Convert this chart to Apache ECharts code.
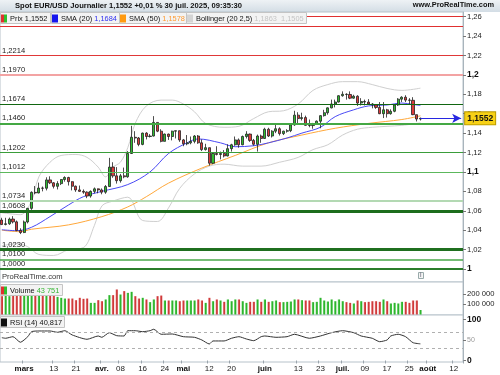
<!DOCTYPE html>
<html><head><meta charset="utf-8">
<script src="https://cdn.jsdelivr.net/npm/echarts@6/dist/echarts.min.js"></script>
<style>html,body{margin:0;padding:0;background:#fff}#c{width:500px;height:375px}</style>
</head><body><div id="c"></div>
<script>
// ---------- DATA ----------
const opens  = [1.0505,1.0460,1.0466,1.0515,1.0486,1.0398,1.0376,1.0485,1.0625,1.0790,1.0784,1.0834,1.0832,1.0918,1.0888,1.0852,1.0880,1.0922,1.0943,1.0900,1.0853,1.0815,1.0800,1.0792,1.0752,1.0800,1.0826,1.0815,1.0792,1.0850,1.1050,1.0960,1.0910,1.0960,1.0950,1.1190,1.1357,1.1350,1.1284,1.1400,1.1365,1.1370,1.1510,1.1420,1.1315,1.1390,1.1365,1.1420,1.1425,1.1330,1.1290,1.1300,1.1315,1.1370,1.1300,1.1230,1.1250,1.1090,1.1190,1.1180,1.1190,1.1165,1.1240,1.1280,1.1330,1.1280,1.1365,1.1390,1.1325,1.1285,1.1370,1.1345,1.1440,1.1370,1.1420,1.1445,1.1395,1.1420,1.1425,1.1485,1.1585,1.1550,1.1560,1.1480,1.1478,1.1495,1.1523,1.1580,1.1610,1.1660,1.1700,1.1720,1.1785,1.1800,1.1798,1.1760,1.1780,1.1710,1.1725,1.1720,1.1700,1.1690,1.1665,1.1600,1.1640,1.1600,1.1625,1.1690,1.1750,1.1770,1.1740,1.1738,1.1590,1.1545];
const highs  = [1.0528,1.0528,1.0530,1.0545,1.0500,1.0420,1.0500,1.0630,1.0800,1.0855,1.0890,1.0850,1.0945,1.0955,1.0895,1.0905,1.0925,1.0955,1.0950,1.0905,1.0860,1.0860,1.0820,1.0800,1.0810,1.0840,1.0830,1.0830,1.0865,1.1145,1.1100,1.1050,1.0980,1.1045,1.1215,1.1475,1.1420,1.1360,1.1405,1.1410,1.1390,1.1575,1.1510,1.1440,1.1395,1.1395,1.1425,1.1425,1.1425,1.1340,1.1380,1.1365,1.1380,1.1380,1.1335,1.1290,1.1250,1.1195,1.1265,1.1210,1.1225,1.1285,1.1290,1.1365,1.1345,1.1375,1.1420,1.1395,1.1340,1.1385,1.1385,1.1455,1.1455,1.1430,1.1495,1.1460,1.1425,1.1440,1.1495,1.1630,1.1615,1.1610,1.1580,1.1540,1.1505,1.1530,1.1585,1.1640,1.1665,1.1745,1.1745,1.1790,1.1830,1.1810,1.1830,1.1795,1.1790,1.1760,1.1745,1.1750,1.1710,1.1700,1.1720,1.1720,1.1650,1.1645,1.1700,1.1760,1.1780,1.1790,1.1760,1.1770,1.1590,1.1560];
const lows   = [1.0455,1.0450,1.0455,1.0470,1.0390,1.0360,1.0370,1.0470,1.0610,1.0770,1.0780,1.0800,1.0810,1.0875,1.0830,1.0820,1.0865,1.0900,1.0860,1.0810,1.0795,1.0795,1.0775,1.0730,1.0735,1.0780,1.0780,1.0770,1.0775,1.0845,1.0940,1.0880,1.0890,1.0935,1.0940,1.1185,1.1300,1.1265,1.1275,1.1335,1.1355,1.1365,1.1410,1.1305,1.1315,1.1330,1.1325,1.1345,1.1310,1.1265,1.1275,1.1285,1.1295,1.1290,1.1215,1.1220,1.1065,1.1080,1.1170,1.1130,1.1150,1.1160,1.1210,1.1270,1.1250,1.1275,1.1345,1.1310,1.1270,1.1210,1.1300,1.1340,1.1360,1.1355,1.1400,1.1375,1.1380,1.1405,1.1410,1.1475,1.1490,1.1530,1.1475,1.1460,1.1445,1.1490,1.1450,1.1570,1.1590,1.1655,1.1665,1.1715,1.1775,1.1745,1.1750,1.1755,1.1680,1.1685,1.1685,1.1690,1.1655,1.1650,1.1595,1.1555,1.1560,1.1590,1.1615,1.1680,1.1720,1.1720,1.1700,1.1585,1.1520,1.1530];
const closes = [1.0458,1.0466,1.0515,1.0486,1.0398,1.0376,1.0485,1.0625,1.0790,1.0784,1.0834,1.0832,1.0918,1.0888,1.0852,1.0880,1.0922,1.0943,1.0900,1.0853,1.0815,1.0800,1.0792,1.0752,1.0800,1.0826,1.0815,1.0792,1.0850,1.1050,1.0960,1.0910,1.0960,1.0950,1.1190,1.1357,1.1350,1.1284,1.1400,1.1365,1.1370,1.1510,1.1420,1.1315,1.1390,1.1365,1.1420,1.1425,1.1330,1.1290,1.1300,1.1315,1.1370,1.1300,1.1230,1.1250,1.1090,1.1190,1.1180,1.1190,1.1165,1.1240,1.1280,1.1330,1.1280,1.1365,1.1390,1.1325,1.1285,1.1370,1.1345,1.1440,1.1370,1.1420,1.1445,1.1395,1.1420,1.1425,1.1485,1.1585,1.1550,1.1560,1.1480,1.1478,1.1495,1.1523,1.1580,1.1610,1.1660,1.1700,1.1720,1.1785,1.1800,1.1798,1.1760,1.1780,1.1710,1.1725,1.1720,1.1700,1.1690,1.1665,1.1600,1.1640,1.1600,1.1625,1.1690,1.1750,1.1770,1.1740,1.1738,1.1590,1.1545,1.1552];
const volumes = [178000,194000,178000,184000,188000,194000,194000,210000,210000,204000,210000,210000,204000,194000,194000,171000,162000,155000,155000,155000,139000,162000,152000,155000,113000,113000,139000,129000,146000,188000,188000,243000,194000,227000,210000,220000,178000,155000,162000,146000,120000,146000,178000,184000,136000,136000,136000,136000,129000,136000,136000,136000,136000,146000,136000,113000,162000,129000,146000,136000,123000,146000,129000,146000,146000,129000,113000,123000,123000,146000,123000,146000,123000,129000,136000,120000,120000,123000,126000,146000,146000,139000,136000,136000,120000,123000,162000,136000,126000,146000,129000,146000,129000,120000,113000,107000,136000,129000,120000,123000,129000,129000,123000,146000,129000,107000,113000,107000,123000,123000,113000,136000,136000,43751];
// indicator lines read at sampled dates (MM-DD, 2025)
const sma20 = [['02-21',1.0405],['02-27',1.0395],['03-05',1.0430],['03-12',1.0540],['03-19',1.0660],['03-25',1.0745],['04-01',1.0800],['04-10',1.0870],['04-18',1.1000],['04-25',1.1190],['05-02',1.1300],['05-07',1.1340],['05-15',1.1300],['05-21',1.1260],['05-28',1.1270],['06-03',1.1300],['06-10',1.1350],['06-16',1.1400],['06-23',1.1460],['06-27',1.1570],['07-04',1.1640],['07-10',1.1680],['07-17',1.1690],['07-23',1.1710],['07-28',1.1695],['07-30',1.1684]];
const sma50 = [['02-21',1.0400],['02-28',1.0385],['03-05',1.0410],['03-19',1.0455],['04-01',1.0540],['04-10',1.0640],['04-17',1.0745],['04-25',1.0885],['05-08',1.1040],['05-21',1.1170],['06-03',1.1300],['06-16',1.1380],['06-27',1.1450],['07-10',1.1500],['07-23',1.1540],['07-30',1.1578]];
const bollUpper = [['02-21',1.0580],['02-28',1.0560],['03-05',1.0700],['03-07',1.0950],['03-12',1.1100],['03-17',1.1170],['03-21',1.1180],['03-26',1.1150],['03-31',1.1050],['04-02',1.0950],['04-04',1.1050],['04-08',1.1100],['04-10',1.1250],['04-14',1.1500],['04-17',1.1680],['04-23',1.1740],['04-28',1.1740],['05-01',1.1700],['05-06',1.1620],['05-09',1.1500],['05-16',1.1460],['05-22',1.1470],['05-28',1.1550],['06-03',1.1620],['06-09',1.1630],['06-13',1.1700],['06-19',1.1840],['06-25',1.1900],['07-01',1.1930],['07-07',1.1930],['07-11',1.1900],['07-17',1.1860],['07-23',1.1840],['07-30',1.1863]];
const bollLower = [['02-21',1.0240],['02-27',1.0260],['03-04',1.0230],['03-07',1.0150],['03-13',1.0140],['03-19',1.0200],['03-25',1.0220],['03-28',1.0450],['04-01',1.0650],['04-04',1.0700],['04-10',1.0740],['04-16',1.0500],['04-22',1.0490],['04-25',1.0630],['04-30',1.0830],['05-06',1.0980],['05-12',1.1060],['05-16',1.1080],['05-23',1.1060],['05-30',1.1060],['06-06',1.1100],['06-13',1.1150],['06-19',1.1230],['06-25',1.1280],['07-01',1.1380],['07-07',1.1440],['07-11',1.1460],['07-17',1.1470],['07-23',1.1480],['07-30',1.1505]];
const rsi = [['02-21',56],['02-24',54.5],['02-26',58.4],['02-28',44.7],['03-04',58.4],['03-05',70.7],['03-07',72.4],['03-12',72.4],['03-14',69.2],['03-18',73.1],['03-20',62.6],['03-26',52],['03-31',60.1],['04-01',56.9],['04-03',68.2],['04-07',60.9],['04-09',60.1],['04-10',73.1],['04-14',73.1],['04-16',70.7],['04-18',73.1],['04-21',76.6],['04-23',64.3],['04-28',65],['05-01',58.4],['05-06',56.9],['05-08',50.3],['05-12',40.5],['05-13',47.9],['05-16',47.9],['05-20',54.5],['05-22',58.4],['05-26',52.8],['05-28',48.6],['05-30',58.4],['06-02',60.1],['06-05',56.9],['06-10',58.4],['06-12',64.3],['06-18',54.5],['06-23',60.1],['06-26',68.2],['07-01',73.1],['07-04',68.2],['07-08',60.1],['07-11',54.5],['07-15',46.1],['07-17',50.3],['07-18',60.1],['07-22',64.3],['07-24',58.4],['07-28',43.7],['07-30',40.817]];
const levels = [1.2613,1.2465,1.2214,1.1970,1.1674,1.1460,1.1202,1.1012,1.0734,1.0608,1.0230,1.0100,1.0000];
const priceTicks = [1.26,1.24,1.22,1.20,1.18,1.16,1.14,1.12,1.10,1.08,1.06,1.04,1.02,1.00];
const volumeTicks = [100000,200000];
const rsiTicks = [0,50,100];
const rsiBands = [70,30];
const dayLabels = {'03-03':'mars','03-13':'13','03-21':'21','04-01':'avr.','04-08':'08','04-16':'16','04-24':'24','05-01':'mai','05-12':'12','05-20':'20','06-02':'juin','06-13':'13','06-23':'23','07-01':'juil.','07-09':'09','07-17':'17','07-25':'25','08-01':'août','08-12':'12'};
const monthLabels = ['mars','avr.','mai','juin','juil.','août'];

// ---------- trading-day categories ----------
const categories = [];
for (let d = new Date(Date.UTC(2025,1,21)); d <= new Date(Date.UTC(2025,7,14)); d.setUTCDate(d.getUTCDate()+1)) {
  const w = d.getUTCDay(); if (w === 0 || w === 6) continue;
  categories.push(String(d.getUTCMonth()+1).padStart(2,'0') + '-' + String(d.getUTCDate()).padStart(2,'0'));
}
const n = closes.length;
const lastDate = categories[n-1];
const lastClose = closes[n-1];
const last = a => a[a.length-1][1];
const f4 = v => v.toFixed(4).replace('.', ',');
const fr = v => String(v).replace('.', ',');
const thou = v => String(Math.round(v)).replace(/\B(?=(\d{3})+(?!\d))/g, ' ');

const FONT = 'Liberation Sans, Arial, sans-serif';
const GREEN = '#2fbf2f', RED = '#dd3b3b';

const levelStyles = [
  {c:'#e03030', w:1, lab:false}, {c:'#e03030', w:1}, {c:'#e03838', w:1}, {c:'#f3a3a3', w:2},
  {c:'#116611', w:1}, {c:'#44a844', w:2}, {c:'#3a9d3a', w:1}, {c:'#5cb85c', w:1},
  {c:'#b3d9b3', w:2}, {c:'#1d6d1d', w:3}, {c:'#1f6f1f', w:3}, {c:'#48a848', w:1.5}, {c:'#2a7d2a', w:2}
];

const candleData = opens.map((o,i) => [o, closes[i], lows[i], highs[i]]);
const grad = (a, b) => new echarts.graphic.LinearGradient(0,0,1,0,[{offset:0,color:b},{offset:0.45,color:a},{offset:1,color:a}]);
const volData = volumes.map((v,i) => ({value: v, itemStyle: {color: closes[i] >= opens[i] ? grad('#2db52d', '#8fe08f') : grad('#cf3a3a', '#f0a0a0')}}));

const gridCommon = {left: 0, right: 37, show: true, borderColor: '#b7c2ca', borderWidth: 1, backgroundColor: '#fff'};
const xBase = {type: 'category', data: categories, boundaryGap: true,
  axisLine: {show: false}, axisTick: {show: false}, axisLabel: {show: false}, splitLine: {show: false}};
const isLab = (i, v) => dayLabels[v] !== undefined;

const LF = 7.4;
const legendBox = (text, left, top, rich) => ({
  text, left, top, padding: [2, 3, 1, 1], backgroundColor: '#f3f3f3', borderColor: '#c4c4c4', borderWidth: 1,
  textStyle: {fontFamily: FONT, fontSize: LF, fontWeight: 'normal', color: '#111', lineHeight: 9, rich: Object.assign({
    r: {width: 3, height: 8, backgroundColor: '#e03030'}, g: {width: 3, height: 8, backgroundColor: '#2fbf2f'},
    t: {fontSize: LF, color: '#111', fontFamily: FONT, padding: [0, 0, 0, 3]}}, rich || {})}
});
const sq = c => ({width: 6, height: 8, backgroundColor: c});

const option = {
  animation: false,
  backgroundColor: '#fff',
  textStyle: {fontFamily: FONT},
  graphic: [{type: 'rect', z: -10, shape: {x: 0, y: 0, width: 500, height: 12},
    style: {fill: new echarts.graphic.LinearGradient(0,0,0,1,[{offset:0,color:'#eef2f5'},{offset:1,color:'#d3dde5'}])}}],
  title: [
    {text: 'Spot EUR/USD Journalier ' + fr(lastClose.toFixed(4)) + ' +0,01 % 30 juil. 2025, 09:35:30', left: 15, top: 1.5, padding: 0,
      textStyle: {fontFamily: FONT, fontSize: 7.6, fontWeight: 'bold', color: '#111'}},
    {text: 'www.ProRealTime.com', right: 6, top: 1.5, padding: 0, textStyle: {fontFamily: FONT, fontSize: 7.4, fontWeight: 'bold', color: '#111'}},
    legendBox('{r|}{g|}{t|Prix ' + f4(lastClose) + '}', 0, 12),
    legendBox('{s|}{t|SMA (20)} {v|' + f4(last(sma20)) + '}', 51, 12, {s: sq('#1515ee'), v: {color: '#3030f0', fontSize: LF, fontFamily: FONT}}),
    legendBox('{s|}{t|SMA (50)} {v|' + f4(last(sma50)) + '}', 119, 12, {s: sq('#ff9a10'), v: {color: '#ff9a30', fontSize: LF, fontFamily: FONT}}),
    legendBox('{s|}{t|Bollinger (20 2,5)} {v|' + f4(last(bollUpper)) + '  ' + f4(last(bollLower)) + '}', 186, 12, {s: sq('#d4d4d4'), v: {color: '#c4c4c4', fontSize: LF, fontFamily: FONT}}),
    {text: 'ProRealTime.com', left: 2, top: 273, padding: 0, textStyle: {fontFamily: FONT, fontSize: 7.6, fontWeight: 'normal', color: '#333'}},
    {text: 'i', left: 418, top: 272, padding: [0, 2], borderColor: '#9aa', borderWidth: 1, backgroundColor: '#f4f4f4', textStyle: {fontFamily: FONT, fontSize: 7, fontWeight: 'normal', color: '#667'}},
    legendBox('{r|}{g|}{t|Volume} {v|' + thou(volumes[n-1]) + '}', 0, 284, {v: {color: '#35b535', fontSize: LF, fontFamily: FONT}}),
    legendBox('{k|}{t|RSI (14) ' + fr(last(rsi).toFixed(3)) + '}', 0, 316, {k: sq('#111')})
  ],
  grid: [
    Object.assign({top: 12, height: 270}, gridCommon),
    Object.assign({top: 282, height: 33}, gridCommon),
    Object.assign({top: 315, height: 47}, gridCommon)
  ],
  xAxis: [
    Object.assign({gridIndex: 0}, xBase),
    Object.assign({gridIndex: 1}, xBase),
    Object.assign({}, xBase, {gridIndex: 2,
      axisLine: {show: false},
      axisTick: {show: true, interval: isLab, length: 3, lineStyle: {color: '#9aa4ac'}},
      axisLabel: {show: true, interval: isLab, margin: 3, fontSize: 8, color: '#222', fontFamily: FONT,
        formatter: v => monthLabels.includes(dayLabels[v]) ? '{b|' + dayLabels[v] + '}' : (dayLabels[v] || ''),
        rich: {b: {fontWeight: 'bold', fontSize: 8, color: '#111', fontFamily: FONT}}}})
  ],
  yAxis: [
    {gridIndex: 0, type: 'value', position: 'right', min: 0.98666, max: 1.26474, splitLine: {show: false},
      axisLine: {show: true, lineStyle: {color: '#a9b4bc'}},
      axisTick: {show: true, customValues: priceTicks, length: 3, lineStyle: {color: '#777'}},
      axisLabel: {customValues: priceTicks, margin: 4, fontSize: 7.6, color: '#222', fontFamily: FONT,
        formatter: v => { const s = fr(+v.toFixed(2)); return (Math.abs(v*10 - Math.round(v*10)) < 1e-6) ? '{b|' + s + '}' : s; },
        rich: {b: {fontWeight: 'bold', fontSize: 8.5, color: '#111', fontFamily: FONT}}}},
    {gridIndex: 1, type: 'value', position: 'right', min: -4850, max: 315500, splitLine: {show: false},
      axisLine: {show: true, lineStyle: {color: '#a9b4bc'}},
      axisTick: {show: true, customValues: volumeTicks, length: 3, lineStyle: {color: '#777'}},
      axisLabel: {customValues: volumeTicks, margin: 4, fontSize: 7.6, color: '#222', fontFamily: FONT, formatter: v => thou(v)}},
    {gridIndex: 2, type: 'value', position: 'right', min: -3.7, max: 111.6, splitLine: {show: false},
      axisLine: {show: true, lineStyle: {color: '#a9b4bc'}},
      axisTick: {show: true, customValues: rsiTicks, length: 3, lineStyle: {color: '#777'}},
      axisLabel: {customValues: rsiTicks, margin: 4, fontSize: 8.5, fontFamily: FONT,
        formatter: v => v === 50 ? '{g|50}' : '{b|' + v + '}',
        rich: {b: {fontWeight: 'bold', color: '#111', fontSize: 8.5, fontFamily: FONT}, g: {color: '#999', fontSize: 7}}}}
  ],
  series: [
    {type: 'line', name: 'bbU', xAxisIndex: 0, yAxisIndex: 0, data: bollUpper, showSymbol: false, smooth: 0.35, silent: true,
      lineStyle: {color: '#cfcfcf', width: 1}, z: 1},
    {type: 'line', name: 'bbL', xAxisIndex: 0, yAxisIndex: 0, data: bollLower, showSymbol: false, smooth: 0.35, silent: true,
      lineStyle: {color: '#cfcfcf', width: 1}, z: 1},
    {type: 'line', name: 'sma50', xAxisIndex: 0, yAxisIndex: 0, data: sma50, showSymbol: false, smooth: 0.35, silent: true,
      lineStyle: {color: '#ffa83a', width: 1}, z: 2},
    {type: 'line', name: 'sma20', xAxisIndex: 0, yAxisIndex: 0, data: sma20, showSymbol: false, smooth: 0.35, silent: true,
      lineStyle: {color: '#4a4af5', width: 1}, z: 2},
    {type: 'candlestick', name: 'Prix', xAxisIndex: 0, yAxisIndex: 0, data: candleData, barWidth: '70%', z: 3,
      itemStyle: {color: GREEN, color0: RED, borderColor: '#222', borderColor0: '#222', borderWidth: 0.8},
      markLine: {silent: true, symbol: ['none', 'none'], animation: false,
        data: levels.map((v, i) => ({yAxis: v,
          lineStyle: {color: levelStyles[i].c, width: levelStyles[i].w, type: 'solid'},
          label: {show: levelStyles[i].lab !== false, position: 'insideStartTop', distance: [2, 1], formatter: () => f4(v),
            fontSize: 7.6, color: '#222', fontFamily: FONT}})).concat([[
          {coord: [lastDate, lastClose], symbol: 'none', lineStyle: {color: '#2727e0', width: 1.2, type: 'solid'},
            label: {show: true, position: 'end', distance: 4, formatter: () => f4(lastClose), fontSize: 8.5, fontWeight: 'bold',
              color: '#111', backgroundColor: '#f7d117', borderColor: '#b99a00', borderWidth: 1, padding: [2, 2, 1, 2], fontFamily: FONT}},
          {coord: [categories[categories.length-1], lastClose], symbol: 'arrow', symbolSize: [7, 9]}
        ]])}},
    {type: 'bar', name: 'Volume', xAxisIndex: 1, yAxisIndex: 1, data: volData, barWidth: '62%',
      markLine: {silent: true, symbol: ['none','none'], data: [{yAxis: volumes[n-1], lineStyle: {opacity: 0},
        label: {show: true, position: 'end', distance: 2, formatter: () => thou(volumes[n-1]), fontSize: 7.6, color: '#3cbc3c',
          backgroundColor: '#fff', borderColor: '#aaa', borderWidth: 1, padding: [1, 1, 0, 1], fontFamily: FONT}}]}},
    {type: 'line', name: 'RSI', xAxisIndex: 2, yAxisIndex: 2, data: rsi, showSymbol: false, smooth: 0.2, silent: true,
      lineStyle: {color: '#333', width: 1},
      markLine: {silent: true, symbol: ['none','none'], data: rsiBands.map(v => ({yAxis: v, lineStyle: {color: '#b0b0b0', type: [3, 3], width: 1}, label: {show: false}}))
        .concat([{yAxis: last(rsi), lineStyle: {opacity: 0},
          label: {show: true, position: 'end', distance: 2, formatter: () => fr(last(rsi).toFixed(3)), fontSize: 7.6, color: '#222',
            backgroundColor: '#fff', borderColor: '#999', borderWidth: 1, padding: [1, 1, 0, 1], fontFamily: FONT}}])}}
  ]
};
const chart = echarts.init(document.getElementById('c'), null, {renderer: 'canvas'});
chart.setOption(option);
</script>
</body></html>
